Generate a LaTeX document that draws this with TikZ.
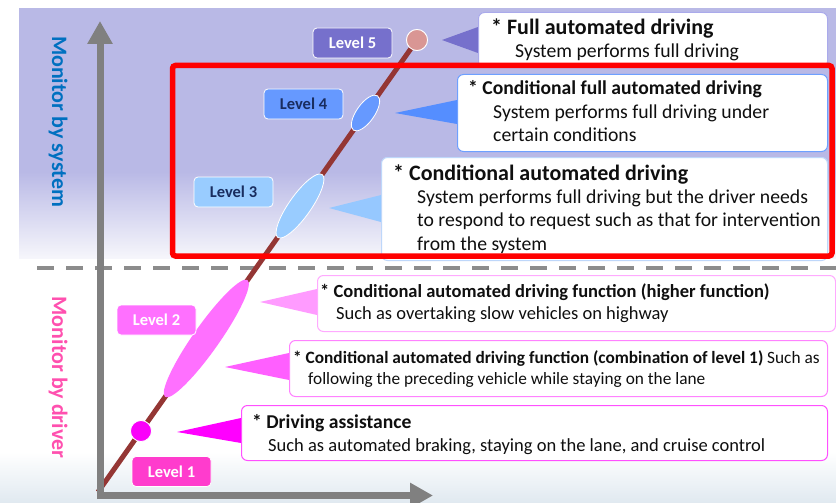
\documentclass[tikz,border=0pt]{standalone}
\usepackage{fontspec}
\setmainfont{Carlito}
\usetikzlibrary{arrows.meta,shapes.geometric,calc}
\definecolor{lav}{RGB}{185,185,230}
\definecolor{lavfade}{RGB}{246,246,251}
\definecolor{botfade}{RGB}{224,233,240}
\definecolor{axisgray}{RGB}{128,128,128}
\definecolor{dashgray}{RGB}{140,140,140}
\definecolor{brownline}{RGB}{148,54,52}
\definecolor{cfive}{RGB}{217,150,148}
\definecolor{lfive}{RGB}{118,112,204}
\definecolor{lfour}{RGB}{102,153,255}
\definecolor{lthree}{RGB}{153,204,255}
\definecolor{ltwo}{RGB}{255,112,255}
\definecolor{lone}{RGB}{255,60,205}
\definecolor{cone}{RGB}{250,0,250}
\definecolor{navy}{RGB}{25,45,95}
\definecolor{tfive}{RGB}{118,112,204}
\definecolor{tfour}{RGB}{85,142,255}
\definecolor{tthree}{RGB}{150,200,255}
\definecolor{ttwoh}{RGB}{255,155,255}
\definecolor{ttwoc}{RGB}{255,95,255}
\definecolor{tone}{RGB}{255,0,255}
\definecolor{bfive}{RGB}{170,170,235}
\definecolor{bfour}{RGB}{110,160,255}
\definecolor{bthree}{RGB}{190,215,250}
\definecolor{btwoh}{RGB}{255,170,255}
\definecolor{btwoc}{RGB}{255,130,255}
\definecolor{bone}{RGB}{255,80,255}
\definecolor{sysblue}{RGB}{0,112,192}
\definecolor{drvpink}{RGB}{255,80,175}
\definecolor{txt}{RGB}{15,15,15}
\begin{document}
\begin{tikzpicture}[x=1pt,y=-1pt,
  axisline/.style={draw=axisgray, line width=7pt, -{Triangle[length=23pt,width=24pt]}},
  lvl/.style={rounded corners=4pt, draw=white, line width=0.8pt, minimum width=79pt, minimum height=30pt, inner sep=0pt, font=\fontsize{16.5}{18}\selectfont\bfseries},
  oval/.style={ellipse, draw=white, line width=0.8pt, inner sep=0pt, rotate=54.8},
  dot/.style={circle, draw=white, line width=0.8pt, inner sep=0pt, minimum size=21pt},
  descbox/.style={rectangle, rounded corners=6pt, fill=white, line width=1pt, inner sep=0pt, anchor=north west},
  tx/.style={anchor=base west, inner sep=0pt, text=txt},
  vlabel/.style={rotate=-90, inner sep=0pt, font=\fontsize{22}{24}\selectfont\bfseries}
]
\useasboundingbox (0,0) rectangle (836,503);
\fill[white] (0,0) rectangle (836,503);
% backgrounds
\fill[lav] (19,8) rectangle (836,172);
\shade[top color=lav, bottom color=lavfade] (19,171.5) rectangle (836,258);
\shade[top color=white, bottom color=botfade] (0,452) rectangle (836,503);
% separator
\draw[dashgray, line width=4pt, dash pattern=on 17pt off 12pt] (37,268) -- (836,268);
% diagonal
\coordinate (start) at (98,492);
\node[dot, fill=cfive] (c5) at (417,40) {};
\draw[brownline, line width=5pt] (start) -- (c5.center);
\node[dot, fill=cfive] at (c5) {};
% axes
\coordinate (ytip) at (100,21);
\coordinate (xtip) at (433,495.5);
\coordinate (ybase) at (100,499);
\coordinate (xbase) at (96.5,495.5);
\draw[axisline] (ybase) -- (ytip);
\draw[axisline] (xbase) -- (xtip);
% ovals and dots
\node[oval, fill=lfour, minimum width=42pt, minimum height=18pt] (e4) at (365.5,113) {};
\node[oval, fill=lthree, minimum width=77pt, minimum height=22pt] (e3) at (300,206) {};
\node[oval, fill=ltwo, draw=none, minimum width=143pt, minimum height=26pt] (e2) at (206.3,338.5) {};
\node[dot, fill=cone] (c1) at (141,431) {};
% level labels
\node[lvl, fill=lfive, text=white] (L5) at (352.5,43) {Level 5};
\node[lvl, fill=lfour, text=navy] (L4) at (303.5,104) {Level 4};
\node[lvl, fill=lthree, text=navy] (L3) at (233.5,192) {Level 3};
\node[lvl, fill=ltwo, text=white] (L2) at (156.5,320) {Level 2};
\node[lvl, fill=lone, text=white] (L1) at (171.5,471.5) {Level 1};
% pointer tips
\coordinate (t5) at (442,40);
\coordinate (t4) at (395,113);
\coordinate (t3) at (329,208);
\coordinate (t2h) at (260,302);
\coordinate (t2c) at (225,367);
\coordinate (t1) at (177,432);
% description box placement
\path (478,12) node[descbox, minimum width=349pt, minimum height=55pt] (b5) {};
\path (457,74) node[descbox, minimum width=370pt, minimum height=77pt] (b4) {};
\path (381,157) node[descbox, minimum width=446pt, minimum height=103pt] (b3) {};
\path (317,275) node[descbox, minimum width=518pt, minimum height=56pt] (b2h) {};
\path (289,340) node[descbox, minimum width=538pt, minimum height=56pt] (b2c) {};
\path (241,405) node[descbox, minimum width=586pt, minimum height=55pt] (b1) {};
% pointers
\fill[tfive] (t5) -- ([yshift=-15pt]b5.north west) -- ([yshift=-41pt]b5.north west) -- cycle;
\fill[tfour] (t4) -- ([yshift=-26pt]b4.north west) -- ([yshift=-50pt]b4.north west) -- cycle;
\fill[tthree] (t3) -- ([yshift=-38pt]b3.north west) -- ([yshift=-65pt]b3.north west) -- cycle;
\fill[ttwoh] (t2h) -- ([yshift=-14pt]b2h.north west) -- ([yshift=-40pt]b2h.north west) -- cycle;
\fill[ttwoc] (t2c) -- ([yshift=-13pt]b2c.north west) -- ([yshift=-40pt]b2c.north west) -- cycle;
\fill[tone] (t1) -- ([yshift=-13pt]b1.north west) -- ([yshift=-38pt]b1.north west) -- cycle;
% boxes drawn
\path (478,12) node[descbox, draw=bfive, minimum width=349pt, minimum height=55pt] {};
\path (457,74) node[descbox, draw=bfour, minimum width=370pt, minimum height=77pt] {};
\path (381,157) node[descbox, draw=bthree, minimum width=446pt, minimum height=103pt] {};
\path (317,275) node[descbox, draw=btwoh, minimum width=518pt, minimum height=56pt] {};
\path (289,340) node[descbox, draw=btwoc, minimum width=538pt, minimum height=56pt] {};
\path (241,405) node[descbox, draw=bone, minimum width=586pt, minimum height=55pt] {};
% texts
\node[tx, font=\fontsize{22}{24}\selectfont\bfseries] (h5) at (491,35) {* Full automated driving};
\node[tx, font=\fontsize{19.7}{22}\selectfont] (s5) at (515,58) {System performs full driving};
\node[tx, font=\fontsize{19.6}{22}\selectfont\bfseries] (h4) at (468,95) {* Conditional full automated driving};
\node[tx, font=\fontsize{19.7}{22}\selectfont] (s4a) at (493,118) {System performs full driving under};
\node[tx, font=\fontsize{19.7}{22}\selectfont] (s4b) at (493,142) {certain conditions};
\node[tx, font=\fontsize{22}{24}\selectfont\bfseries] (h3) at (393,180) {* Conditional automated driving};
\node[tx, font=\fontsize{19.7}{22}\selectfont] (s3a) at (417,203) {System performs full driving but the driver needs};
\node[tx, font=\fontsize{19.7}{22}\selectfont] (s3b) at (417,226.5) {to respond to request such as that for intervention};
\node[tx, font=\fontsize{19.7}{22}\selectfont] (s3c) at (417,250) {from the system};
\node[tx, font=\fontsize{18.5}{20}\selectfont\bfseries] (h2h) at (320,297) {* Conditional automated driving function (higher function)};
\node[tx, font=\fontsize{18.5}{20}\selectfont] (s2h) at (336,319) {Such as overtaking slow vehicles on highway};
\node[tx, font=\fontsize{17.3}{20}\selectfont] (h2c) at (293,363) {\bfseries * Conditional automated driving function (combination of level 1)\mdseries{} Such as};
\node[tx, font=\fontsize{17.3}{20}\selectfont] (s2c) at (308,384) {following the preceding vehicle while staying on the lane};
\node[tx, font=\fontsize{19.6}{22}\selectfont\bfseries] (h1) at (252,428) {* Driving assistance};
\node[tx, font=\fontsize{18.5}{20}\selectfont] (s1) at (268,451) {Such as automated braking, staying on the lane, and cruise control};
% highlight frame
\draw[red, line width=5.5pt, rounded corners=3pt] (172.5,65.5) rectangle (832,256);
% side labels
\node[vlabel, text=sysblue] (ms) at (58,121.5) {Monitor by system};
\node[vlabel, text=drvpink] (md) at (58,377.5) {Monitor by driver};
\end{tikzpicture}
\end{document}
